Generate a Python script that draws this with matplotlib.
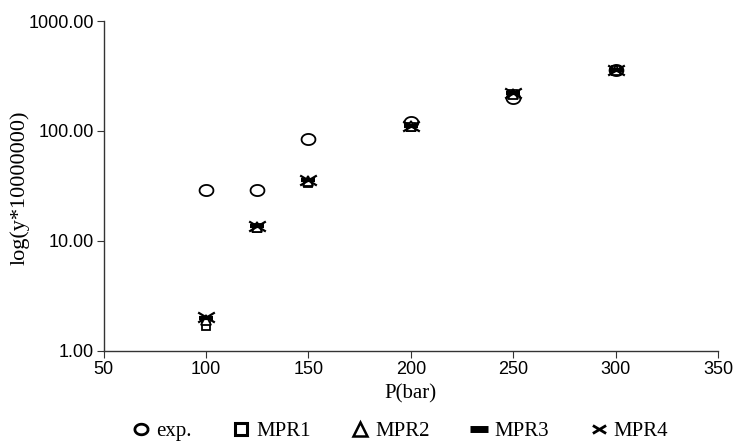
import matplotlib
matplotlib.use('Agg')
import matplotlib.pyplot as plt
import numpy as np
from matplotlib.path import Path

# data
pressure = [100, 125, 150, 200, 250, 300]
exp_vals = [29.0, 29.0, 85.0, 120.0, 200.0, 360.0]
mpr1 = [1.7, 13.2, 34.0, 108.0, 215.0, 355.0]
mpr2 = [1.9, 13.4, 35.0, 110.0, 218.0, 358.0]
mpr3 = [2.0, 13.6, 35.5, 111.0, 220.0, 360.0]
mpr4 = [2.05, 13.8, 36.0, 112.0, 222.0, 362.0]

ticks_y = [1, 10, 100, 1000]
ticks_x = [50, 100, 150, 200, 250, 300, 350]

# wide ellipse marker for the experimental points
t = np.linspace(0, 2 * np.pi, 60)
ellipse = Path(np.column_stack([1.25 * np.cos(t), np.sin(t)]))
# flat cross for MPR4
flat_x = Path([(-1, -0.6), (1, 0.6), (-1, 0.6), (1, -0.6)],
              [Path.MOVETO, Path.LINETO, Path.MOVETO, Path.LINETO])

serif = ['Liberation Serif', 'DejaVu Serif']
sans = ['Liberation Sans', 'DejaVu Sans']

fig = plt.figure(figsize=(7.36, 4.44), dpi=100)
ax = fig.add_axes([0.1408, 0.2095, 0.8348, 0.7432])

ax.plot(pressure, exp_vals, linestyle='none', marker=ellipse, markersize=10,
        markerfacecolor='white', markeredgecolor='black', markeredgewidth=1.3, label='exp.')
ax.plot(pressure, mpr1, linestyle='none', marker='s', markersize=6,
        markerfacecolor='white', markeredgecolor='black', markeredgewidth=1.3, label='MPR1')
ax.plot(pressure, mpr2, linestyle='none', marker='^', markersize=7,
        markerfacecolor='white', markeredgecolor='black', markeredgewidth=1.3, label='MPR2')
ax.plot(pressure, mpr3, linestyle='none', marker='_', markersize=10,
        markeredgecolor='black', markeredgewidth=3, label='MPR3')
ax.plot(pressure, mpr4, linestyle='none', marker=flat_x, markersize=12,
        markeredgecolor='black', markeredgewidth=1.6, label='MPR4')

ax.set_yscale('log')
ax.set_xlim(50, 350)
ax.set_ylim(1, 1000)
ax.set_yticks(ticks_y)
ax.set_yticklabels([f'{v:.2f}' for v in ticks_y], family=sans, fontsize=13)
ax.yaxis.set_minor_locator(matplotlib.ticker.NullLocator())
ax.set_xticks(ticks_x)
ax.set_xticklabels([str(v) for v in ticks_x], family=sans, fontsize=13)

for side in ['top', 'right']:
    ax.spines[side].set_visible(False)
for side in ['left', 'bottom']:
    ax.spines[side].set_color('#333333')
    ax.spines[side].set_linewidth(1.0)
ax.tick_params(axis='both', direction='out', length=5, color='#333333', pad=2)

ax.set_xlabel('P(bar)', family=serif, fontsize=15, labelpad=5)
ax.set_ylabel('log(y*10000000)', family=serif, fontsize=16)
ax.yaxis.set_label_coords(-0.12, 0.494)

leg = fig.legend(loc='center', bbox_to_anchor=(0.544, 0.029), ncol=5, frameon=False,
                 prop={'family': serif, 'size': 15}, handletextpad=0.3, columnspacing=2.0,
                 handlelength=0.8)
# legend symbols are drawn bigger than the plotted ones
legend_sizes = [9.5, 9, 9.5, 13, 9.5]
legend_widths = [2.0, 2.2, 1.8, 5, 2.0]
for h, ms, mw in zip(leg.legend_handles, legend_sizes, legend_widths):
    h.set_markersize(ms)
    h.set_markeredgewidth(mw)

fig.savefig('out.png', dpi=100, facecolor='white')
